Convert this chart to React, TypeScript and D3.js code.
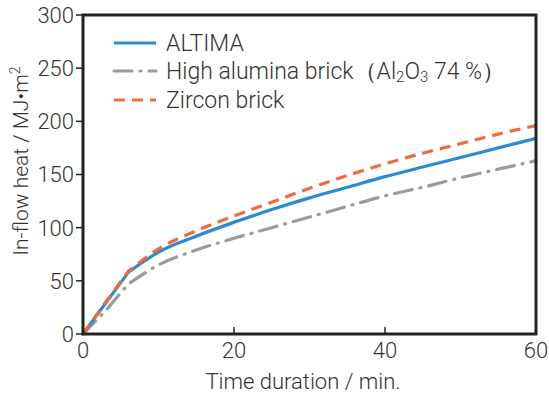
import React, { useEffect, useRef } from 'react';
import * as d3 from 'd3';

const times = [0, 3, 6, 10, 15, 20, 25, 30, 35, 40, 45, 50, 55, 60];
const altima = [0, 29, 58, 77, 92, 105, 117, 128, 138, 148, 157, 166, 175, 184];
const highAlumina = [0, 22, 47, 65, 79, 90, 100, 110, 120, 130, 138, 147, 155, 163];
const zircon = [0, 30, 59, 80, 97, 111, 124, 137, 149, 160, 170, 179, 188, 196];
const xTicks = [0, 20, 40, 60];
const yTicks = [0, 50, 100, 150, 200, 250, 300];

const series = [
    { name: 'ALTIMA', values: altima, color: '#2a8bd3', dash: '' },
    { name: 'High alumina brick', values: highAlumina, color: '#9b9b9b', dash: '18,8,1,8' },
    { name: 'Zircon brick', values: zircon, color: '#f06a3c', dash: '11,7' },
];

const FONT = 'Roboto, "Noto Sans", sans-serif';
const KINK = 2; // index of the 6 min point where the curves change from straight to curved

const App: React.FC = () => {
    const svgRef = useRef<SVGSVGElement>(null);

    useEffect(() => {
        const svg = d3.select(svgRef.current);
        svg.selectAll('*').remove();

        const left = 83, right = 536, top = 15, bottom = 334;
        const x = d3.scaleLinear().domain([0, 60]).range([left, right]);
        const y = d3.scaleLinear().domain([0, 300]).range([bottom, top]);

        const straight = d3.line<number>()
            .x((_, i) => x(times[i]))
            .y(d => y(d));
        const curved = d3.line<number>()
            .x((_, i) => x(times[i + KINK]))
            .y(d => y(d))
            .curve(d3.curveMonotoneX);

        const pathOf = (vals: number[]) => {
            const a = straight(vals.slice(0, KINK + 1)) || '';
            const b = (curved(vals.slice(KINK)) || '').replace(/^M[^LC]*/, '');
            return a + b;
        };

        // gray first, then blue, then orange on top
        [series[1], series[0], series[2]].forEach(s => {
            svg.append('path')
                .attr('d', pathOf(s.values))
                .attr('fill', 'none')
                .attr('stroke', s.color)
                .attr('stroke-width', 3.2)
                .attr('stroke-dasharray', s.dash || null)
                .attr('stroke-linecap', s === series[1] ? 'round' : 'butt')
                .attr('stroke-linejoin', 'round');
        });

        // frame
        svg.append('rect')
            .attr('x', left)
            .attr('y', top)
            .attr('width', right - left)
            .attr('height', bottom - top)
            .attr('fill', 'none')
            .attr('stroke', '#222')
            .attr('stroke-width', 3);

        // y ticks (outward)
        yTicks.forEach(t => {
            svg.append('line')
                .attr('x1', left - 7).attr('x2', left)
                .attr('y1', y(t)).attr('y2', y(t))
                .attr('stroke', '#222').attr('stroke-width', 1.5);
            svg.append('text')
                .attr('x', left - 9)
                .attr('y', y(t))
                .attr('dy', '0.36em')
                .attr('text-anchor', 'end')
                .attr('font-family', FONT)
                .attr('font-weight', 300)
                .attr('font-size', 22)
                .attr('fill', '#333')
                .text(t);
        });

        // x ticks (inward)
        xTicks.forEach(t => {
            svg.append('line')
                .attr('x1', x(t)).attr('x2', x(t))
                .attr('y1', bottom).attr('y2', bottom - 7)
                .attr('stroke', '#222').attr('stroke-width', 1.5);
            svg.append('text')
                .attr('x', x(t))
                .attr('y', bottom + 24)
                .attr('text-anchor', 'middle')
                .attr('font-family', FONT)
                .attr('font-weight', 300)
                .attr('font-size', 22)
                .attr('fill', '#333')
                .text(t);
        });

        // axis titles
        svg.append('text')
            .attr('x', 303)
            .attr('y', 389)
            .attr('text-anchor', 'middle')
            .attr('font-family', FONT)
            .attr('font-weight', 300)
            .attr('font-size', 22)
            .attr('fill', '#333')
            .text('Time duration / min.');

        const yl = svg.append('text')
            .attr('transform', 'translate(28,161) rotate(-90)')
            .attr('text-anchor', 'middle')
            .attr('font-family', FONT)
            .attr('font-weight', 300)
            .attr('font-size', 21)
            .attr('fill', '#333');
        yl.append('tspan').text('In-flow heat / MJ•m');
        yl.append('tspan').attr('dy', -8).attr('font-size', 14).text('2');

        // legend
        const ly = [43, 71, 100];
        series.forEach((s, i) => {
            svg.append('line')
                .attr('x1', 114).attr('x2', 156)
                .attr('y1', ly[i]).attr('y2', ly[i])
                .attr('stroke', s.color)
                .attr('stroke-width', 3.2)
                .attr('stroke-dasharray', s.dash || null)
                .attr('stroke-linecap', i === 1 ? 'round' : 'butt');
            const t = svg.append('text')
                .attr('x', 166)
                .attr('y', ly[i])
                .attr('dy', '0.36em')
                .attr('font-family', FONT)
                .attr('font-weight', 300)
                .attr('font-size', 23)
                .attr('fill', '#333');
            if (i === 1) {
                t.append('tspan').text('High alumina brick（Al');
                t.append('tspan').attr('font-size', 15).attr('dy', 3).text('2');
                t.append('tspan').attr('dy', -3).text('O');
                t.append('tspan').attr('font-size', 15).attr('dy', 3).text('3');
                t.append('tspan').attr('dy', -3).text(' 74 %）');
            } else {
                t.text(s.name);
            }
        });
    }, []);

    return (
        <svg ref={svgRef} width={549} height={397}
            style={{ position: 'absolute', left: 0, top: 0, background: '#fff' }}></svg>
    );
};

export default App;
